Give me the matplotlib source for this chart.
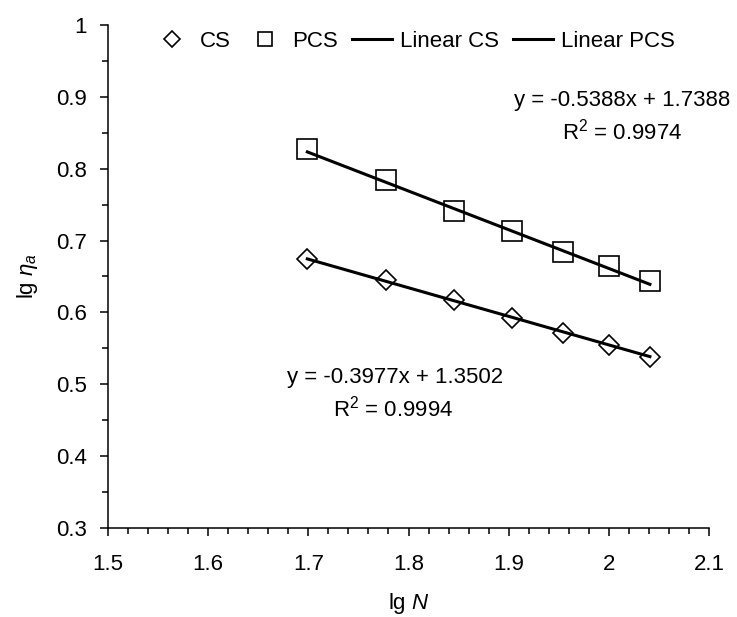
import matplotlib
matplotlib.use("Agg")
import matplotlib.pyplot as plt
from matplotlib.ticker import MultipleLocator, FuncFormatter
import numpy as np

plt.rcParams['font.family'] = ['Liberation Sans', 'DejaVu Sans']
plt.rcParams['mathtext.fontset'] = 'custom'
plt.rcParams['mathtext.rm'] = 'Liberation Sans'
plt.rcParams['mathtext.it'] = 'Liberation Sans:italic'

# Data
lgN = [1.699, 1.778, 1.845, 1.903, 1.954, 2.000, 2.041]
cs = [0.674, 0.645, 0.617, 0.592, 0.571, 0.554, 0.538]
pcs = [0.828, 0.784, 0.741, 0.713, 0.684, 0.665, 0.644]
fit_cs = (-0.3977, 1.3502)
fit_pcs = (-0.5388, 1.7388)
r2_cs = 0.9994
r2_pcs = 0.9974
x_ticks = [1.5, 1.6, 1.7, 1.8, 1.9, 2.0, 2.1]
y_ticks = [0.3, 0.4, 0.5, 0.6, 0.7, 0.8, 0.9, 1.0]

FS = 16
fig = plt.figure(figsize=(7.37, 6.17), dpi=100)
ax = fig.add_axes([108/737, 1 - 528/617, (709-108)/737, (528-25)/617])

xs = np.array([min(lgN), max(lgN)])
ax.plot(lgN, cs, linestyle='none', marker='D', ms=10.5, mfc='none', mec='black', mew=1.2, label='CS', zorder=2)
ax.plot(lgN, pcs, linestyle='none', marker='s', ms=14.2, mfc='none', mec='black', mew=1.2, label='PCS', zorder=2)
ax.plot(xs, fit_cs[0]*xs + fit_cs[1], color='black', lw=2.2, label='Linear CS', zorder=3)
ax.plot(xs, fit_pcs[0]*xs + fit_pcs[1], color='black', lw=2.2, label='Linear PCS', zorder=3)

ax.set_xlim(1.5, 2.1)
ax.set_ylim(0.3, 1.0)
ax.set_xticks(x_ticks)
ax.set_yticks(y_ticks)
ax.xaxis.set_minor_locator(MultipleLocator(0.02))
ax.yaxis.set_minor_locator(MultipleLocator(0.05))
fmt = FuncFormatter(lambda v, p: '%g' % round(v, 3))
ax.xaxis.set_major_formatter(fmt)
ax.yaxis.set_major_formatter(fmt)
ax.tick_params(which='major', direction='out', length=6, width=1.1, labelsize=FS)
ax.tick_params(which='minor', direction='out', length=4.5, width=1.1)
ax.tick_params(axis='x', which='major', pad=13)
ax.tick_params(axis='y', which='major', pad=9)
for s in ['top', 'right']:
    ax.spines[s].set_visible(False)
for s in ['left', 'bottom']:
    ax.spines[s].set_linewidth(1.1)

ax.set_xlabel(r'lg $\mathit{N}$', fontsize=FS, labelpad=11)
ax.set_ylabel(r'lg $\mathit{\eta}_{\mathit{a}}$', fontsize=FS, labelpad=12)

ax.text(2.013, 0.8956, 'y = %.4fx + %.4f' % fit_pcs, ha='center', va='center', fontsize=FS)
ax.text(2.013, 0.852, r'R$^2$ = %.4f' % r2_pcs, ha='center', va='center', fontsize=FS)
ax.text(1.787, 0.510, 'y = %.4fx + %.4f' % fit_cs, ha='center', va='center', fontsize=FS)
ax.text(1.785, 0.466, r'R$^2$ = %.4f' % r2_cs, ha='center', va='center', fontsize=FS)

leg = ax.legend(loc='center', bbox_to_anchor=(0.508, 0.968), ncol=4, frameon=False,
                fontsize=FS, handlelength=1.8, handletextpad=0.36, columnspacing=0.62,
                borderaxespad=0)
for h in leg.legend_handles[:2]:
    h.set_markersize(h.get_markersize() * 0.75)

fig.savefig('out.png', dpi=100)
